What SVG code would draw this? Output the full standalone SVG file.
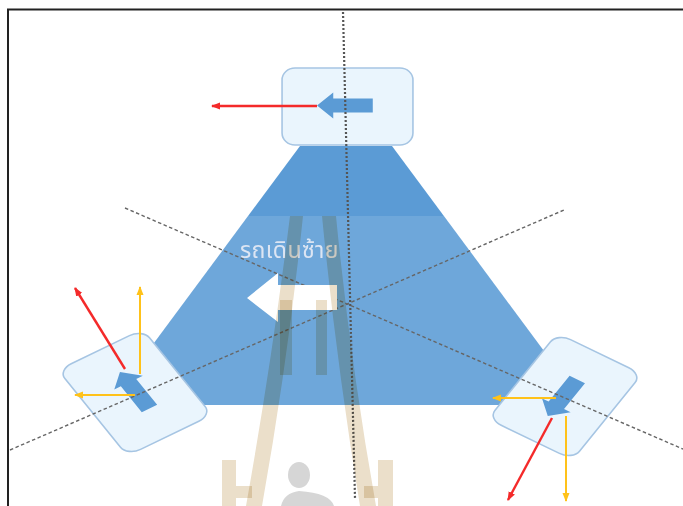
<svg xmlns="http://www.w3.org/2000/svg" xmlns:xlink="http://www.w3.org/1999/xlink" width="683" height="506" viewBox="0 0 683 506">
<style>
.box{fill:#eaf5fd;stroke:#a6c5e3;stroke-width:1.6}
.barrow{fill:#5b9bd5}
.axis{fill:none;stroke:#666;stroke-width:1.4;stroke-dasharray:3.5 2.5}
.axisv{fill:none;stroke:#555;stroke-width:2.2;stroke-dasharray:2 2}
.red{fill:none;stroke:#f42a2a;stroke-width:2.4}
.yel{fill:none;stroke:#ffc21a;stroke-width:2}
.wm{fill:#ebdfca;mix-blend-mode:multiply}
.label{font-family:"Noto Sans Thai","Noto Sans","Liberation Sans",sans-serif;font-size:23px;letter-spacing:0.4px;fill:#dce5f3}
</style>
<defs>
<marker id="mr" markerUnits="userSpaceOnUse" markerWidth="10" markerHeight="8" refX="8" refY="4" orient="auto"><path d="M0,0.5 L9,4 L0,7.5 Z" fill="#f42a2a"/></marker>
<marker id="my" markerUnits="userSpaceOnUse" markerWidth="10" markerHeight="8" refX="8" refY="4" orient="auto"><path d="M0,0.5 L9,4 L0,7.5 Z" fill="#ffc21a"/></marker>
<g id="wheel">
<rect class="box" x="-50.5" y="-38.5" width="101" height="77" rx="10" ry="12" vector-effect="non-scaling-stroke"/>
<polygon class="barrow" points="-23.5,-1 -11,-14 -11,-8 19.5,-8 19.5,6 -11,6 -11,12"/>
</g>
</defs>
<rect x="0" y="0" width="683" height="506" fill="#ffffff"/>
<path d="M8,506 V9.5 H683" fill="none" stroke="#222" stroke-width="2"/>

<g id="platform">
<polygon points="300,146 392,146 584,405 108,405" fill="#5b9bd5"/>
<polygon points="248,216 444,216 584,405 108,405" fill="#ffffff" opacity="0.12"/>
</g>

<g id="wheel-top" transform="translate(347.5,106.5) scale(1.296,1)"><use href="#wheel" xlink:href="#wheel"/></g>
<g id="wheel-left" transform="translate(135,392.5) scale(1.296,1) rotate(58)"><use href="#wheel" xlink:href="#wheel"/></g>
<g id="wheel-right" transform="translate(565,396.5) scale(1.296,1) rotate(-58)"><use href="#wheel" xlink:href="#wheel"/></g>

<g id="axes">
<line class="axisv" x1="343" y1="12" x2="355" y2="498"/>
<line class="axis" x1="125" y1="208" x2="683" y2="449"/>
<line class="axis" x1="10" y1="450" x2="564" y2="210"/>
</g>

<g id="direction">
<polygon points="247,298 278,273 278,285 337,285 337,310 278,310 278,322" fill="#ffffff"/>
<text class="label" x="240" y="258">รถเดินซ้าย</text>
</g>

<g id="connectors">
<line class="red" x1="317" y1="106" x2="212" y2="106" marker-end="url(#mr)"/>
<line class="red" x1="125" y1="369" x2="75" y2="288" marker-end="url(#mr)"/>
<line class="yel" x1="140" y1="374" x2="140" y2="287" marker-end="url(#my)"/>
<line class="yel" x1="135" y1="395" x2="75" y2="395" marker-end="url(#my)"/>
<line class="red" x1="552" y1="418" x2="508" y2="500" marker-end="url(#mr)"/>
<line class="yel" x1="566" y1="416" x2="566" y2="501" marker-end="url(#my)"/>
<line class="yel" x1="556" y1="398" x2="493" y2="398" marker-end="url(#my)"/>
</g>

<g id="watermark">
<path class="wm" d="M290,216 L303,216 Q288,360 262,506 L246,506 Q272,360 290,216 Z"/>
<path class="wm" d="M322,216 L336,216 Q350,360 376,506 L360,506 Q336,360 322,216 Z"/>
<rect class="wm" x="280" y="300" width="12" height="75"/>
<rect class="wm" x="316" y="300" width="11" height="75"/>
<path class="wm" d="M222,460 H236 V486 H252 V498 H236 V506 H222 Z"/>
<path class="wm" d="M393,460 H378 V486 H364 V498 H378 V506 H393 Z"/>
<ellipse cx="299" cy="475" rx="11" ry="13" fill="#d6d6d6"/>
<path d="M281,506 Q284,493 299,491 Q330,493 334,506 Z" fill="#d6d6d6"/>
</g>
</svg>
